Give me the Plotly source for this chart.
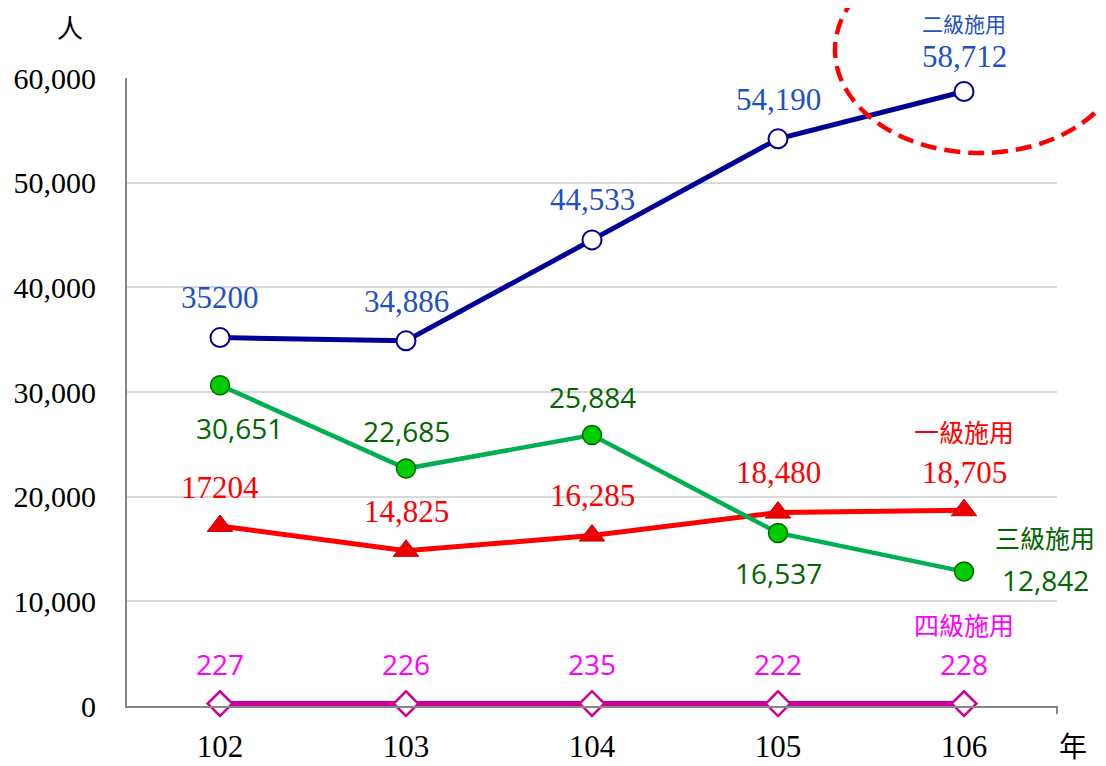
import plotly.graph_objects as go

years = ["102", "103", "104", "105", "106"]
level2 = [35200, 34886, 44533, 54190, 58712]
level3 = [30651, 22685, 25884, 16537, 12842]
level1 = [17204, 14825, 16285, 18480, 18705]
level4 = [227, 226, 235, 222, 228]

level2_text = ["35200", "34,886", "44,533", "54,190", "58,712"]
level3_text = ["30,651", "22,685", "25,884", "16,537", "12,842"]
level1_text = ["17204", "14,825", "16,285", "18,480", "18,705"]
level4_text = ["227", "226", "235", "222", "228"]

y_ticks = [0, 10000, 20000, 30000, 40000, 50000, 60000]
y_tick_text = ["0", "10,000", "20,000", "30,000", "40,000", "50,000", "60,000"]

SERIF = "Liberation Serif"
SANS = "Open Sans"
CJK = "Noto Sans CJK TC"

# pixel geometry of the plot area (in the screenshot) used for paper-coordinate shapes
PX_L, PX_R, PX_T, PX_B = 127, 1057, 78, 706
def px(xp):
    return (xp - PX_L) / (PX_R - PX_L)
def py(yp):
    return (PX_B - yp) / (PX_B - PX_T)

fig = go.Figure()

fig.add_trace(go.Scatter(
    x=years, y=level4, mode="lines+markers",
    line=dict(color="#CC0099", width=5),
    marker=dict(symbol="diamond", size=19, color="white",
                line=dict(color="#CC0099", width=2.5)),
    cliponaxis=False, showlegend=False))
fig.add_trace(go.Scatter(
    x=years, y=level1, mode="lines+markers",
    line=dict(color="#FF0000", width=5),
    marker=dict(symbol="triangle-up", size=22, color="#EE0000",
                line=dict(color="#C00000", width=1)),
    cliponaxis=False, showlegend=False))
fig.add_trace(go.Scatter(
    x=years, y=level3, mode="lines+markers",
    line=dict(color="#00B050", width=4.5),
    marker=dict(symbol="circle", size=19, color="#00CC00",
                line=dict(color="#006600", width=1.5)),
    cliponaxis=False, showlegend=False))
fig.add_trace(go.Scatter(
    x=years, y=level2, mode="lines+markers",
    line=dict(color="#000099", width=5),
    marker=dict(symbol="circle", size=19, color="white",
                line=dict(color="#000099", width=2)),
    cliponaxis=False, showlegend=False))

annotations = []

def add_labels(values, texts, color, font, size, offsets):
    for i, (yv, t, (dx, dy)) in enumerate(zip(values, texts, offsets)):
        annotations.append(dict(
            x=i, y=yv, xref="x", yref="y", text=t, showarrow=False,
            xanchor="center", yanchor="middle", borderpad=0,
            xshift=dx, yshift=dy, font=dict(family=font, size=size, color=color)))

add_labels(level2, level2_text, "#1E50C8", SERIF, 31,
           [(0, 40), (0, 39), (0, 40), (0, 39), (0, 35)])
add_labels(level3, level3_text, "#006600", SANS, 28,
           [(19, -43), (0, 38), (0, 38), (0, -40), (81, -8)])
add_labels(level1, level1_text, "#FF0000", SERIF, 31,
           [(0, 38), (0, 39), (0, 40), (0, 40), (0, 38)])
add_labels(level4, level4_text, "#FF00FF", SANS, 28,
           [(0, 40), (0, 40), (0, 40), (0, 40), (0, 40)])

# series names
def add_name(idx, yv, text, color, dx, dy, size=25):
    annotations.append(dict(x=idx, y=yv, xref="x", yref="y", text=text,
                            showarrow=False, xanchor="center", yanchor="middle",
                            borderpad=0, xshift=dx, yshift=dy,
                            font=dict(family=CJK, size=size, color=color)))

add_name(4, level2[4], "二級施用", "#1E50C8", 0, 68, size=21)
add_name(4, level1[4], "一級施用", "#FF0000", 0, 79)
add_name(4, level3[4], "三級施用", "#006600", 81, 35)
add_name(4, level4[4], "四級施用", "#FF00FF", 0, 80)

# axis unit labels
annotations.append(dict(x=px(70), y=py(26), xref="paper", yref="paper",
                        text="人", showarrow=False, xanchor="center", yanchor="middle",
                        borderpad=0, font=dict(family=CJK, size=26, color="black")))
annotations.append(dict(x=px(1073), y=py(745), xref="paper", yref="paper",
                        text="年", showarrow=False, xanchor="center", yanchor="middle",
                        borderpad=0, font=dict(family=CJK, size=28, color="black")))

fig.update_layout(
    width=1098, height=758,
    margin=dict(l=119, r=49, t=70, b=60, autoexpand=False),
    paper_bgcolor="white", plot_bgcolor="white",
    annotations=annotations,
    shapes=[
        dict(type="circle", xref="paper", yref="paper",
             x0=px(835), x1=px(1125), y0=py(153), y1=py(-53),
             line=dict(color="#FF0000", width=4.5, dash="16px,8px"), layer="above"),
        dict(type="line", xref="paper", yref="paper",
             x0=1, x1=1, y0=0, y1=py(714),
             line=dict(color="#868686", width=2)),
    ],
)
fig.update_xaxes(type="category", range=[-0.5, 4.5], showgrid=False, automargin=False,
                 showline=True, linecolor="#868686", linewidth=2,
                 ticks="", tickfont=dict(family=SERIF, size=31, color="black"),
                 ticklabelstandoff=12)
fig.update_yaxes(range=[0, 60000], tickvals=y_ticks, ticktext=y_tick_text,
                 automargin=False,
                 showgrid=True, gridcolor="#D9D9D9", gridwidth=1.5,
                 showline=True, linecolor="#868686", linewidth=2,
                 zeroline=False, ticks="",
                 tickfont=dict(family=SERIF, size=30, color="black"),
                 ticklabelstandoff=23)

fig.write_html("out.html")
